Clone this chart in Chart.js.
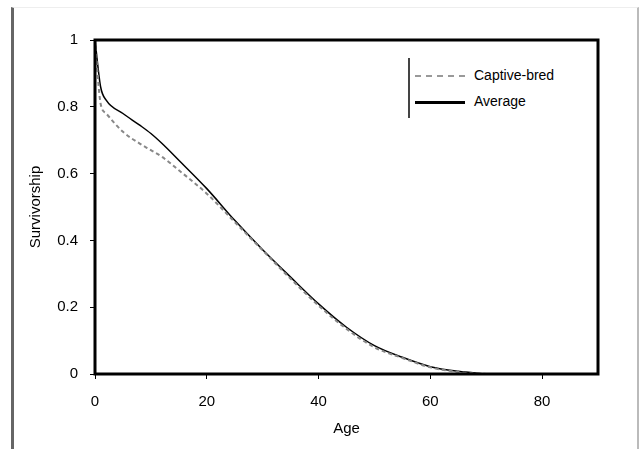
<!DOCTYPE html>
<html>
<head>
<meta charset="utf-8">
<script src="https://cdn.jsdelivr.net/npm/chart.js@4/dist/chart.umd.min.js"></script>
<style>
  html, body { margin: 0; padding: 0; background: #fff; }
  #wrap { position: relative; width: 639px; height: 449px; }
  #frame { position: absolute; left: 11px; top: 7px; width: 623px; height: 442px;
           border-left: 3px solid #666; border-right: 2px solid #bbb; border-top: 1px solid #eee; }
  #legend { position: absolute; left: 408px; top: 58px; width: 156px; height: 60px;
            border-left: 2px solid #444; background: #fff;
            font-family: "Liberation Sans", Arial, sans-serif; font-size: 14px; color: #000; }
  .item { position: absolute; left: 5px; height: 16px; }
  .sample { position: absolute; left: 0; top: 8px; width: 50px; }
  .label { position: absolute; left: 59px; top: 0; white-space: nowrap; }
</style>
</head>
<body>
<div id="wrap">
  <div id="frame"></div>
  <canvas id="chart" width="639" height="449"></canvas>
  <div id="legend"></div>
</div>
<script>
// data
const ages = [0, 1, 2, 5, 8, 10, 12, 15, 20, 25, 30, 35, 40, 45, 50, 55, 60, 65, 70];
const captive = [1.0, 0.81, 0.78, 0.725, 0.69, 0.67, 0.65, 0.61, 0.54, 0.455, 0.37, 0.285, 0.205, 0.135, 0.08, 0.048, 0.02, 0.006, 0.0];
const average = [1.0, 0.86, 0.82, 0.78, 0.745, 0.72, 0.69, 0.64, 0.555, 0.46, 0.372, 0.29, 0.21, 0.14, 0.085, 0.05, 0.022, 0.008, 0.0];
const yTicks = [0, 0.2, 0.4, 0.6, 0.8, 1];
const xTicks = [0, 20, 40, 60, 80];
const seriesNames = ['Captive-bred', 'Average'];

const font = { family: '"Liberation Sans", Arial, sans-serif', size: 15 };

function toPoints(ys) {
    return ages.map((a, i) => ({ x: a, y: ys[i] }));
}

// thick black box around the plot area
const frameBox = {
    id: 'frameBox',
    afterDraw(chart) {
        const a = chart.chartArea;
        const ctx = chart.ctx;
        ctx.save();
        ctx.strokeStyle = '#000';
        ctx.lineWidth = 3;
        ctx.strokeRect(a.left, a.top, a.right - a.left, a.bottom - a.top);
        ctx.restore();
    }
};

new Chart(document.getElementById('chart').getContext('2d'), {
    type: 'line',
    data: {
        datasets: [
            {
                label: seriesNames[0],
                data: toPoints(captive),
                borderColor: '#888',
                borderWidth: 2,
                borderDash: [4, 3],
                pointRadius: 0,
                cubicInterpolationMode: 'monotone',
                fill: false
            },
            {
                label: seriesNames[1],
                data: toPoints(average),
                borderColor: '#000',
                borderWidth: 1.5,
                pointRadius: 0,
                cubicInterpolationMode: 'monotone',
                fill: false
            }
        ]
    },
    options: {
        responsive: false,
        animation: false,
        layout: { padding: { top: 40, right: 41, left: 0, bottom: 0 } },
        plugins: {
            legend: { display: false },
            tooltip: { enabled: false }
        },
        scales: {
            x: {
                type: 'linear',
                min: 0,
                max: 90,
                afterFit(scale) { scale.height = 75; },
                afterBuildTicks(scale) { scale.ticks = xTicks.map(v => ({ value: v })); },
                grid: { drawOnChartArea: false, drawTicks: true, tickLength: 5, color: '#000' },
                border: { display: false },
                ticks: { font: font, color: '#000', padding: 14, maxRotation: 0 },
                title: { display: true, text: 'Age', font: font, color: '#000', padding: { top: 0, bottom: 11 } }
            },
            y: {
                min: 0,
                max: 1,
                afterFit(scale) { scale.width = 95; },
                afterBuildTicks(scale) { scale.ticks = yTicks.map(v => ({ value: v })); },
                grid: { drawOnChartArea: false, drawTicks: true, tickLength: 5, color: '#000' },
                border: { display: false },
                ticks: {
                    font: font, color: '#000', padding: 12,
                    callback: v => String(Math.round(v * 10) / 10)
                },
                title: { display: true, text: 'Survivorship', font: font, color: '#000', padding: { top: 27, bottom: 0 } }
            }
        }
    },
    plugins: [frameBox]
});

// legend inside the plot, top right
const legend = document.getElementById('legend');
const samples = ['border-top: 2px dashed #999;', 'border-top: 3px solid #000;'];
seriesNames.forEach((name, i) => {
    const item = document.createElement('div');
    item.className = 'item';
    item.style.top = (9 + i * 26) + 'px';
    item.innerHTML = '<div class="sample" style="' + samples[i] + '"></div><div class="label">' + name + '</div>';
    legend.appendChild(item);
});
</script>
</body>
</html>
